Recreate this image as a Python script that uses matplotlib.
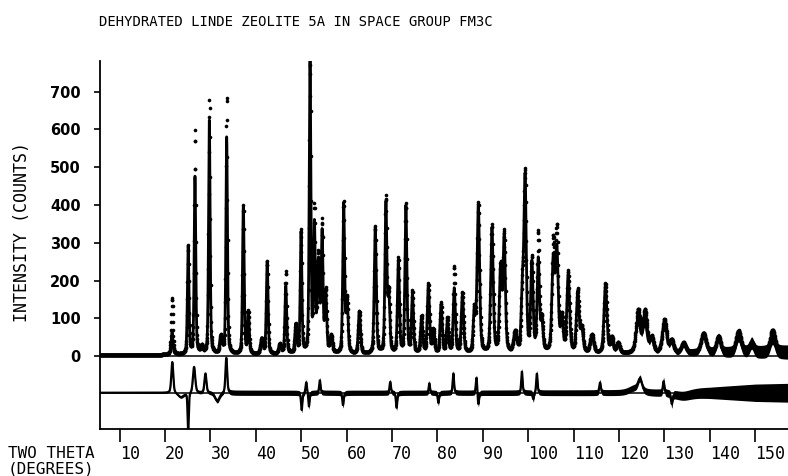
import numpy as np
import matplotlib.pyplot as plt

peak_pos = [21.55, 25.1, 26.6, 28.1, 29.76, 32.3, 33.58, 37.25, 38.35, 41.3,
            42.5, 45.3, 46.6, 48.8, 49.96, 51.94, 52.9, 53.8, 54.6, 55.4,
            56.6, 59.35, 60.1, 62.8, 66.3, 68.65, 69.3, 71.4, 73.05, 74.5,
            76.5, 78.0, 79.1, 80.8, 82.2, 83.7, 85.5, 88.1, 89.0, 92.0,
            93.9, 94.7, 97.1, 98.7, 99.3, 100.8, 102.2, 103.0, 105.5, 106.3,
            107.4, 108.8, 110.9, 111.8, 114.0, 117.0, 118.4, 119.8, 124.2, 125.7,
            127.2, 130.0, 131.6, 134.2, 138.6, 141.9, 146.3, 149.2, 153.8]
peak_calc = [60, 285, 470, 20, 620, 45, 575, 390, 110, 40,
             245, 25, 180, 75, 320, 770, 330, 235, 310, 150,
             45, 395, 140, 112, 335, 395, 140, 245, 390, 155,
             95, 180, 62, 128, 88, 172, 155, 105, 390, 330,
             220, 305, 50, 155, 455, 235, 245, 75, 240, 265,
             85, 205, 160, 58, 45, 180, 36, 24, 85, 80,
             35, 82, 30, 24, 46, 38, 43, 24, 38]
peak_obs = [150, 285, 592, 20, 673, 45, 682, 393, 110, 40,
            245, 25, 218, 75, 325, 776, 372, 250, 335, 160,
            45, 397, 140, 112, 337, 410, 150, 250, 394, 162,
            99, 183, 62, 133, 93, 230, 160, 110, 397, 337,
            225, 314, 55, 165, 466, 245, 315, 80, 285, 315,
            90, 213, 165, 63, 49, 185, 41, 27, 112, 110,
            39, 88, 33, 27, 53, 44, 58, 27, 60]
peak_fwhm = [0.45, 0.4, 0.4, 0.5, 0.4, 0.6, 0.4, 0.42, 0.45, 0.6,
             0.45, 0.6, 0.45, 0.5, 0.42, 0.42, 0.45, 0.6, 0.45, 0.5,
             0.6, 0.48, 0.5, 0.55, 0.52, 0.5, 0.5, 0.5, 0.5, 0.5,
             0.55, 0.55, 0.55, 0.55, 0.55, 0.55, 0.6, 0.55, 0.65, 0.65,
             0.6, 0.6, 0.8, 0.6, 0.6, 0.6, 0.6, 0.6, 0.7, 0.7,
             0.65, 0.7, 0.7, 0.7, 0.9, 0.75, 0.7, 0.8, 1.1, 1.1,
             0.9, 1.1, 0.9, 1.1, 1.3, 1.1, 1.3, 1.1, 1.3]

# background level
bg_x = [5.75, 20, 40, 60, 80, 100, 120, 140, 157.5]
bg_y = [3, 3, 4, 4, 4, 4, 6, 8, 10]

# difference curve features: position, amplitude, fwhm
diff_pos = [21.6, 23.5, 25.1, 26.4, 28.9, 31.5, 33.5, 50.1, 51.1, 51.7,
            54.1, 59.2, 69.6, 71.0, 78.2, 80.2, 83.5, 88.6, 89.0, 98.6,
            101.1, 101.9, 115.8, 123.5, 124.6, 129.8, 131.6, 134.0]
diff_amp = [82, -12, -105, 69, 51, -22, 93, -46, 29, -37,
            33, -33, 29, -40, 25, -27, 51, 42, -33, 56,
            -18, 51, 27, 12, 30, 31, -27, -8]
diff_fwhm = [0.5, 1.5, 0.3, 0.6, 0.5, 1.2, 0.45, 0.35, 0.35, 0.3,
             0.35, 0.35, 0.35, 0.35, 0.3, 0.35, 0.35, 0.35, 0.35, 0.35,
             0.35, 0.35, 0.4, 3.0, 1.0, 0.4, 0.4, 4.0]

# scatter half-width of the noisy points (counts)
obs_band_x = [5.75, 20, 60, 100, 120, 135, 145, 157.5]
obs_band_hw = [0, 1, 2, 3, 5, 9, 15, 19]
diff_band_x = [5.75, 20, 35, 80, 120, 130, 140, 150, 157.5]
diff_band_hw = [0, 2, 7, 7, 8, 10, 15, 23, 25]

x_ticks = [10, 20, 30, 40, 50, 60, 70, 80, 90, 100, 110, 120, 130, 140, 150]
y_ticks = [0, 100, 200, 300, 400, 500, 600, 700]
diff_offset = -97


def profile(x, pos, height, fwhm):
    y = np.zeros_like(x)
    for p, h, w in zip(pos, height, fwhm):
        d = (x - p) / (w / 2)
        y += h * (0.6 * np.exp(-np.log(2) * d ** 2) + 0.4 / (1 + d ** 2))
    return y


tt = np.arange(5.75, 157.5, 0.02)
tt_obs = np.arange(5.75, 157.5, 0.05)

calc = profile(tt, peak_pos, peak_calc, peak_fwhm) + np.interp(tt, bg_x, bg_y)
obs = profile(tt_obs, peak_pos, peak_obs, peak_fwhm) + np.interp(tt_obs, bg_x, bg_y)
diff = profile(tt, diff_pos, diff_amp, diff_fwhm) + diff_offset

mono = 'DejaVu Sans Mono'

fig = plt.figure(figsize=(7.88, 4.76), dpi=100)
ax = fig.add_axes([0.1273, 0.0987, 0.8727, 0.7738])

obs_hw = np.interp(tt, obs_band_x, obs_band_hw)
ax.fill_between(tt, calc - obs_hw, calc + obs_hw, color='k', lw=0)
diff_hw = np.interp(tt, diff_band_x, diff_band_hw)
ax.fill_between(tt, diff - diff_hw, diff + diff_hw, color='k', lw=0)

ax.plot(tt, calc, color='k', lw=2.0)
ax.plot(tt_obs, obs, 'o', color='k', ms=2.6, mew=0)
ax.plot(tt, diff, color='k', lw=1.6)

ax.axhline(0, color='k', lw=1.1)
ax.axhline(diff_offset, color='k', lw=1.1)

ax.set_xlim(5.75, 157.2)
ax.set_ylim(-193, 782)
for s in ['top', 'right']:
    ax.spines[s].set_visible(False)
ax.spines['left'].set_linewidth(1.3)
ax.spines['bottom'].set_linewidth(1.3)

ax.set_xticks(x_ticks)
ax.set_xticklabels([str(t) for t in x_ticks], family=mono, fontsize=12)
for lbl in ax.get_xticklabels():
    lbl.set_horizontalalignment('left')
ax.tick_params(axis='x', direction='out', length=9.5, width=1.2, pad=2)

ax.set_yticks(y_ticks)
ax.set_yticklabels([str(t) for t in y_ticks], fontsize=10.5, fontweight='bold')
ax.tick_params(axis='y', direction='out', length=4, width=1.2, pad=10)

fig.text(99 / 788, 1 - 22 / 476, 'DEHYDRATED LINDE ZEOLITE 5A IN SPACE GROUP FM3C',
         family=mono, fontsize=10, va='center', ha='left')
fig.text(22 / 788, 1 - 232 / 476, 'INTENSITY (COUNTS)', family=mono, fontsize=12,
         rotation=90, va='center', ha='center')
fig.text(8 / 788, 1 - 453 / 476, 'TWO THETA', family=mono, fontsize=11.5, va='center', ha='left')
fig.text(8 / 788, 1 - 468.5 / 476, '(DEGREES)', family=mono, fontsize=11.5, va='center', ha='left')

fig.savefig('out.png', dpi=100)
